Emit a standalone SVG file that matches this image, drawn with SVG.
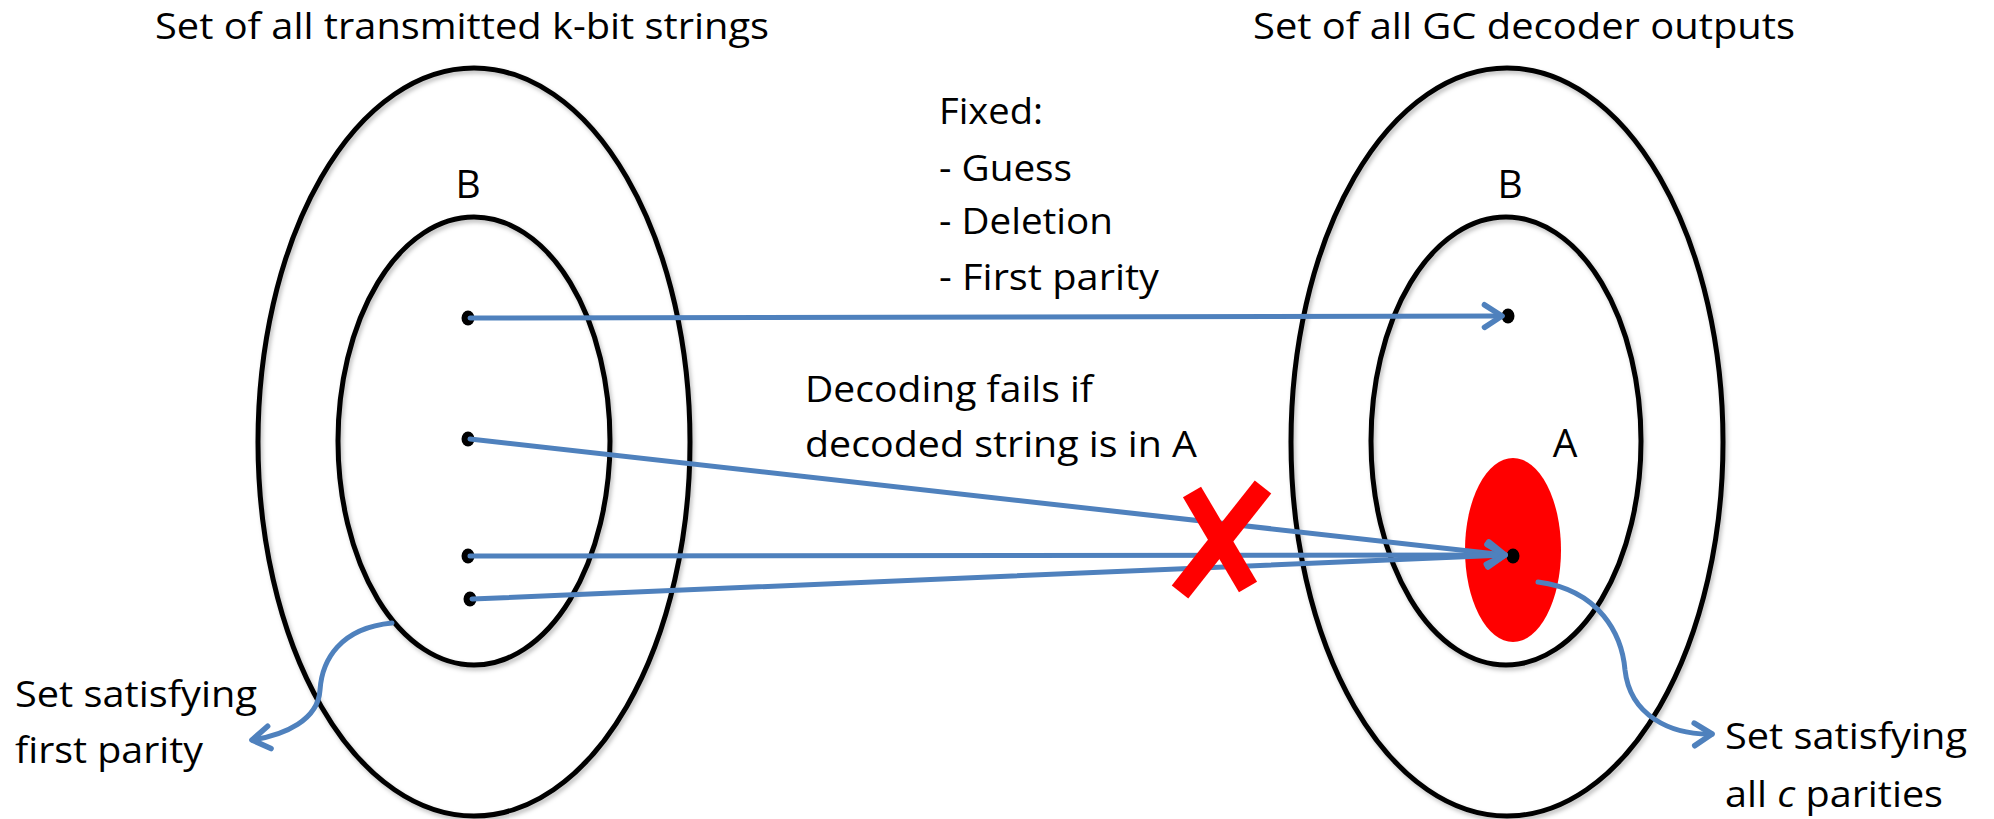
<svg xmlns="http://www.w3.org/2000/svg" width="1994" height="819" viewBox="0 0 1994 819">
<defs>
<style>
.set{fill:none;stroke:#000;stroke-width:5;filter:url(#sh)}
.dot{fill:#000}
.conn{fill:none;stroke:#4F81BD;stroke-width:5;stroke-linecap:round}
.arr{marker-end:url(#chev)}
.t{font-family:"Open Sans","Noto Sans","Liberation Sans",sans-serif;font-size:36px;fill:#000}
.big{font-size:39px}
.x{stroke:#FF0000;stroke-width:21;stroke-linecap:butt}
</style>
<filter id="sh" x="-10%" y="-10%" width="120%" height="120%">
<feDropShadow dx="2" dy="3" stdDeviation="2" flood-color="#000" flood-opacity="0.25"/>
</filter>
<marker id="chev" markerUnits="userSpaceOnUse" markerWidth="30" markerHeight="30" viewBox="0 0 20 24" refX="17" refY="12" orient="auto">
<path d="M3,3 L17,12 L3,21" fill="none" stroke="#4F81BD" stroke-width="4.5" stroke-linecap="round" stroke-linejoin="round"/>
</marker>
</defs>
<rect width="1994" height="819" fill="#fff"/>

<g id="left-set">
<ellipse class="set" cx="474" cy="442" rx="216" ry="374"/>
<text class="t" x="155" y="39" textLength="614" lengthAdjust="spacingAndGlyphs">Set of all transmitted k-bit strings</text>
</g>
<g id="left-B">
<ellipse class="set" cx="474" cy="441" rx="136" ry="224"/>
<text class="t big" x="468" y="198" text-anchor="middle">B</text>
</g>
<g id="left-dots">
<ellipse class="dot" cx="468" cy="318" rx="6.5" ry="7.5"/>
<ellipse class="dot" cx="468" cy="439" rx="6.5" ry="7.5"/>
<ellipse class="dot" cx="468" cy="556" rx="6.5" ry="7.5"/>
<ellipse class="dot" cx="470" cy="599" rx="6.5" ry="7.5"/>
</g>

<g id="right-set">
<ellipse class="set" cx="1507" cy="442" rx="216" ry="374"/>
<text class="t" x="1253" y="39" textLength="542" lengthAdjust="spacingAndGlyphs">Set of all GC decoder outputs</text>
</g>
<g id="right-B">
<ellipse class="set" cx="1506" cy="441" rx="135" ry="224"/>
<text class="t big" x="1510" y="198" text-anchor="middle">B</text>
</g>
<g id="A">
<ellipse cx="1513" cy="550" rx="48" ry="92" fill="#FF0000"/>
<text class="t big" x="1565" y="457" text-anchor="middle">A</text>
</g>
<g id="right-dots">
<ellipse class="dot" cx="1508" cy="316" rx="6.5" ry="7.5"/>
<ellipse class="dot" cx="1513" cy="556" rx="6.5" ry="7.5"/>
</g>

<g id="fixed-note">
<text class="t" x="939" y="124" textLength="104" lengthAdjust="spacingAndGlyphs">Fixed:</text>
<text class="t" x="939" y="181" textLength="133" lengthAdjust="spacingAndGlyphs">- Guess</text>
<text class="t" x="939" y="234" textLength="174" lengthAdjust="spacingAndGlyphs">- Deletion</text>
<text class="t" x="939" y="290" textLength="220" lengthAdjust="spacingAndGlyphs">- First parity</text>
</g>
<g id="fail-note">
<text class="t" x="805" y="402" textLength="288" lengthAdjust="spacingAndGlyphs">Decoding fails if</text>
<text class="t" x="805" y="457" textLength="392" lengthAdjust="spacingAndGlyphs">decoded string is in A</text>
</g>
<g id="left-label">
<text class="t" x="15" y="707" textLength="242" lengthAdjust="spacingAndGlyphs">Set satisfying</text>
<text class="t" x="15" y="763" textLength="188" lengthAdjust="spacingAndGlyphs">first parity</text>
</g>
<g id="right-label">
<text class="t" x="1725" y="749" textLength="242" lengthAdjust="spacingAndGlyphs">Set satisfying</text>
<text class="t" x="1725" y="807" textLength="218" lengthAdjust="spacingAndGlyphs">all <tspan font-style="italic">c</tspan> parities</text>
</g>

<g id="connectors">
<line class="conn arr" x1="470" y1="318" x2="1502" y2="316"/>
<line class="conn arr" x1="470" y1="439" x2="1505" y2="555"/>
<line class="conn arr" x1="470" y1="556" x2="1505" y2="555"/>
<line class="conn arr" x1="472" y1="599" x2="1505" y2="555"/>
<path class="conn arr" d="M392,623 C340,628 322,660 320,690 C318,720 285,735 252,740"/>
<path class="conn arr" d="M1538,582 C1600,590 1622,635 1625,670 C1630,715 1670,735 1712,734"/>
</g>

<g id="cross">
<line class="x" x1="1192" y1="492" x2="1248" y2="587"/>
<line class="x" x1="1263" y1="487" x2="1180" y2="592"/>
</g>
</svg>
